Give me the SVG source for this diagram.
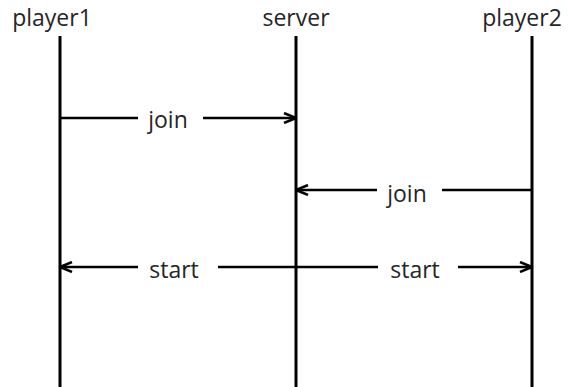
<svg xmlns="http://www.w3.org/2000/svg" width="569" height="387" viewBox="0 0 569 387">
<style>
text{font-family:"Open Sans","Liberation Sans",sans-serif;font-size:23px;fill:#262626;text-anchor:middle}
.life{stroke:#000;stroke-width:3;fill:none}
.msg{stroke:#000;stroke-width:2.5;fill:none}
</style>
<defs>
<marker id="ah" viewBox="0 0 14 12" refX="13" refY="6" markerWidth="14" markerHeight="12" markerUnits="userSpaceOnUse" orient="auto">
<polyline points="1,1 13,6 1,11" fill="none" stroke="#000" stroke-width="2.5"/>
</marker>
</defs>
<rect width="569" height="387" fill="#fff"/>
<g id="player1">
<text x="52" y="26">player1</text>
<line class="life" x1="60" y1="36" x2="60" y2="387"/>
</g>
<g id="server">
<text x="296" y="26">server</text>
<line class="life" x1="296" y1="36" x2="296" y2="387"/>
</g>
<g id="player2">
<text x="522" y="26">player2</text>
<line class="life" x1="532" y1="36" x2="532" y2="387"/>
</g>
<g id="connectors">
<line class="msg" x1="60" y1="118" x2="138" y2="118"/>
<line class="msg" x1="203" y1="118" x2="296" y2="118" marker-end="url(#ah)"/>
<text x="168" y="128">join</text>
<line class="msg" x1="532" y1="190" x2="442" y2="190"/>
<line class="msg" x1="377" y1="190" x2="296" y2="190" marker-end="url(#ah)"/>
<text x="407" y="202">join</text>
<line class="msg" x1="138" y1="267" x2="60" y2="267" marker-end="url(#ah)"/>
<line class="msg" x1="218" y1="267" x2="378" y2="267"/>
<text x="174" y="278">start</text>
<line class="msg" x1="458" y1="267" x2="532" y2="267" marker-end="url(#ah)"/>
<text x="415" y="278">start</text>
</g>
</svg>
